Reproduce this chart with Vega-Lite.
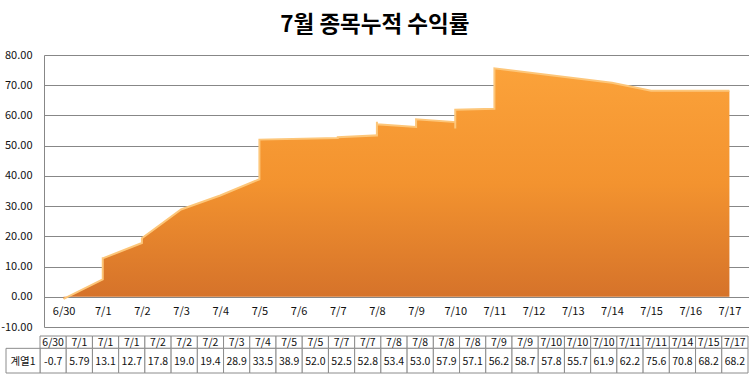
{
  "$schema": "https://vega.github.io/schema/vega-lite/v6.json",
  "background": "white",
  "padding": {"left": 0, "top": 13, "right": 0, "bottom": 0},
  "title": {"text": "7월 종목누적 수익률", "font": "Noto Sans CJK KR", "fontSize": 22.5, "fontWeight": "bold", "color": "#000000", "anchor": "middle", "offset": 13},
  "config": {
    "view": {"stroke": null},
    "font": "Noto Sans CJK KR",
    "axis": {"labelFont": "Noto Sans CJK KR", "labelColor": "#111111"},
    "text": {"font": "Noto Sans CJK KR"}
  },
  "datasets": {
    "rows": [
      {"n": 1, "date": "2014-06-30", "value": -0.7},
      {"n": 2, "date": "2014-07-01", "value": 5.79},
      {"n": 3, "date": "2014-07-01", "value": 13.1},
      {"n": 4, "date": "2014-07-01", "value": 12.7},
      {"n": 5, "date": "2014-07-02", "value": 17.8},
      {"n": 6, "date": "2014-07-02", "value": 19.0},
      {"n": 7, "date": "2014-07-02", "value": 19.4},
      {"n": 8, "date": "2014-07-03", "value": 28.9},
      {"n": 9, "date": "2014-07-04", "value": 33.5},
      {"n": 10, "date": "2014-07-05", "value": 38.9},
      {"n": 11, "date": "2014-07-05", "value": 52.0},
      {"n": 12, "date": "2014-07-07", "value": 52.5},
      {"n": 13, "date": "2014-07-07", "value": 52.8},
      {"n": 14, "date": "2014-07-08", "value": 53.4},
      {"n": 15, "date": "2014-07-08", "value": 53.0},
      {"n": 16, "date": "2014-07-08", "value": 57.9},
      {"n": 17, "date": "2014-07-08", "value": 57.1},
      {"n": 18, "date": "2014-07-09", "value": 56.2},
      {"n": 19, "date": "2014-07-09", "value": 58.7},
      {"n": 20, "date": "2014-07-10", "value": 57.8},
      {"n": 21, "date": "2014-07-10", "value": 55.7},
      {"n": 22, "date": "2014-07-10", "value": 61.9},
      {"n": 23, "date": "2014-07-11", "value": 62.2},
      {"n": 24, "date": "2014-07-11", "value": 75.6},
      {"n": 25, "date": "2014-07-14", "value": 70.8},
      {"n": 26, "date": "2014-07-15", "value": 68.2},
      {"n": 27, "date": "2014-07-17", "value": 68.2}
    ],
    "series": [{"series": "계열1"}]
  },
  "spacing": 3,
  "vconcat": [
    {
      "width": 705,
      "height": 272,
      "data": {"name": "rows"},
      "encoding": {
        "x": {
          "field": "date", "type": "temporal",
          "scale": {"type": "utc", "domain": [{"year": 2014, "month": 6, "date": 29, "hours": 12, "utc": true}, {"year": 2014, "month": 7, "date": 17, "hours": 12, "utc": true}]},
          "axis": {"orient": "bottom", "offset": -30, "domain": false, "ticks": false, "grid": false, "labelPadding": 8, "format": "%-m/%-d", "tickCount": {"interval": "day", "step": 1}, "labelFontSize": 11, "labelFlush": false, "labelOverlap": false, "title": null}
        },
        "y": {
          "field": "value", "type": "quantitative", "stack": null,
          "scale": {"domain": [-10, 80], "nice": false, "zero": false},
          "axis": {"values": [-10, 0, 10, 20, 30, 40, 50, 60, 70, 80], "format": ".2f", "labelExpr": "replace(datum.label, '−', '-')", "grid": true, "gridColor": "#878787", "domain": true, "domainColor": "#878787", "ticks": false, "labelPadding": 12, "labelFontSize": 11, "title": null}
        },
        "order": {"value": null}
      },
      "layer": [
        {
          "mark": {"type": "area", "color": {"gradient": "linear", "x1": 0, "y1": 0, "x2": 0, "y2": 1, "stops": [{"offset": 0, "color": "#FBA23A"}, {"offset": 0.5, "color": "#F3932F"}, {"offset": 1, "color": "#D5722A"}]}},
          "encoding": {"y2": {"datum": 0}}
        },
        {
          "mark": {"type": "line", "stroke": "#FDC679", "strokeWidth": 2}
        }
      ]
    },
    {
      "width": 705,
      "height": 37,
      "resolve": {"scale": {"x": "independent"}, "axis": {"x": "independent"}},
      "layer": [
        {
          "data": {"name": "rows"},
          "encoding": {
            "x": {"field": "n", "type": "ordinal", "axis": null, "scale": {"range": [-4, 704], "paddingInner": 0, "paddingOuter": 0}}
          },
          "layer": [
            {
              "mark": {"type": "rect", "fill": "white", "stroke": "#8C8C8C", "strokeWidth": 1},
              "encoding": {
                "y": {"datum": 0, "type": "quantitative", "scale": {"domain": [0, 3], "reverse": true, "nice": false, "zero": false}, "axis": null},
                "y2": {"datum": 1}
              }
            },
            {
              "mark": {"type": "rect", "fill": "white", "stroke": "#8C8C8C", "strokeWidth": 1},
              "encoding": {"y": {"datum": 1, "type": "quantitative", "axis": null}, "y2": {"datum": 3}}
            },
            {
              "mark": {"type": "text", "fontSize": 10.5, "color": "#111111", "baseline": "middle", "dy": 0.5},
              "encoding": {"y": {"datum": 0.5, "type": "quantitative", "axis": null}, "text": {"field": "date", "type": "temporal", "timeUnit": "utcmonthdate", "format": "%-m/%-d"}}
            },
            {
              "mark": {"type": "text", "fontSize": 10.5, "color": "#111111", "baseline": "middle", "dy": 1, "text": {"expr": "replace(datum.value < 0 ? format(datum.value, '.1f') : format(datum.value, '.3r'), '−', '-')"}},
              "encoding": {"y": {"datum": 2, "type": "quantitative", "axis": null}}
            }
          ]
        },
        {
          "data": {"name": "series"},
          "encoding": {
            "x": {"field": "series", "type": "nominal", "axis": null, "scale": {"range": [-38, -4], "paddingInner": 0, "paddingOuter": 0}}
          },
          "layer": [
            {
              "mark": {"type": "rect", "fill": "white", "stroke": "#8C8C8C", "strokeWidth": 1},
              "encoding": {"y": {"datum": 1, "type": "quantitative", "axis": null}, "y2": {"datum": 3}}
            },
            {
              "mark": {"type": "text", "fontSize": 10.5, "color": "#111111", "baseline": "middle", "dy": 1},
              "encoding": {"y": {"datum": 2, "type": "quantitative", "axis": null}, "text": {"field": "series", "type": "nominal"}}
            }
          ]
        }
      ]
    }
  ]
}
